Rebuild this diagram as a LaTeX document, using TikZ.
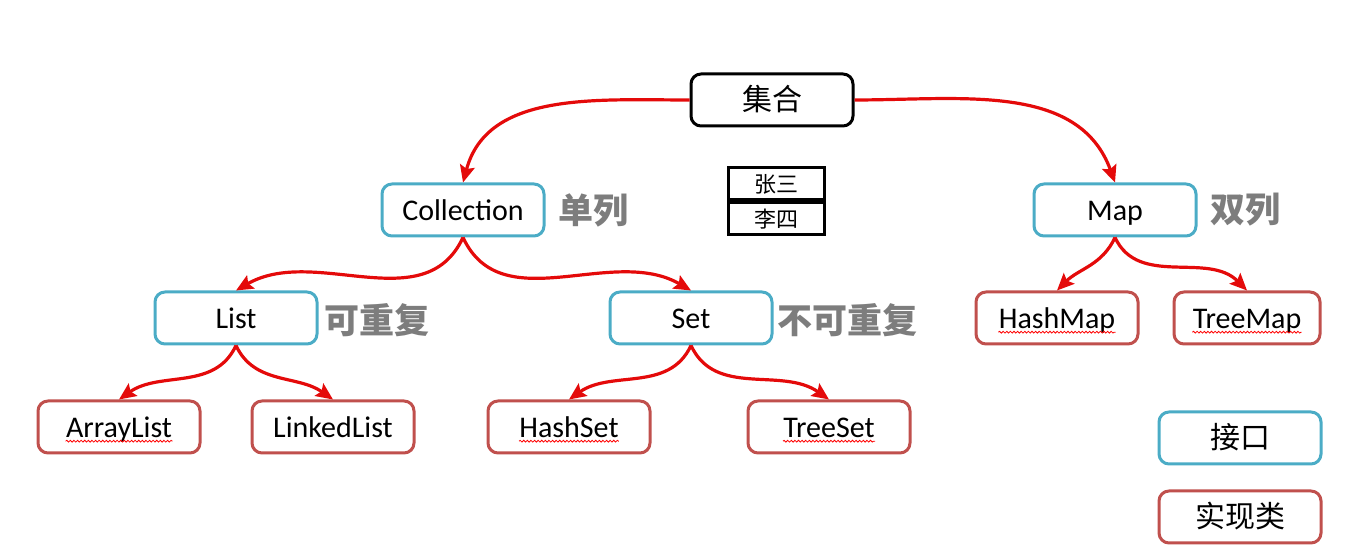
\documentclass[tikz,border=0pt]{standalone}
\usepackage{fontspec}
\setmainfont{Carlito}
\newfontfamily\cjk{Noto Sans CJK SC}
\usetikzlibrary{arrows.meta,decorations.pathmorphing}

\definecolor{ifblue}{RGB}{75,172,198}
\definecolor{implred}{RGB}{192,80,77}
\definecolor{linkred}{RGB}{228,10,10}
\definecolor{notegray}{RGB}{125,125,125}

\begin{document}
\begin{tikzpicture}[x=0.5pt, y=0.5pt,
    box/.style={draw, line width=1.5pt, rounded corners=5pt, minimum width=81pt,
        minimum height=26pt, inner sep=2pt, text height=12pt, text depth=1pt,
        font=\fontsize{15}{18}\selectfont},
    root/.style={box, draw=black},
    iface/.style={box, draw=ifblue},
    impl/.style={box, draw=implred},
    word/.style={inner sep=0pt, anchor=base, font=\fontsize{15}{18}\selectfont},
    spell/.style={draw=red, line width=0.4pt,
        decorate, decoration={snake, amplitude=0.45pt, segment length=1.8pt}},
    link/.style={draw=linkred, line width=1.6pt, -{Stealth[length=8.5pt, width=7.5pt, inset=1.5pt]}},
    note/.style={anchor=west, inner sep=0pt, text=notegray,
        font=\cjk\bfseries\fontsize{17.5}{20}\selectfont},
    cell/.style={draw, line width=1.5pt, minimum width=48pt, minimum height=16pt,
        inner sep=0pt, font=\cjk\fontsize{11}{13}\selectfont}
]
    \useasboundingbox (0,0) rectangle (1352,560);

    % 顶层
    \node[root] (jihe) at (772,460) {\cjk 集合};

    % 接口
    \node[iface] (coll) at (463,350) {Collection};
    \node[iface] (map) at (1115,350) {Map};
    \node[iface] (list) at (236,242) {List};
    \node[iface] (set) at (691,242) {Set};

    % 实现类
    \node[impl] (arraylist) at (119,133) {};
    \node[impl] (linkedlist) at (333,133) {LinkedList};
    \node[impl] (hashset) at (569,133) {};
    \node[impl] (treeset) at (829,133) {};
    \node[impl] (hashmap) at (1057,242) {};
    \node[impl, minimum width=73pt] (treemap) at (1247,242) {};

    % 带波浪线的文字
    \node[word] (arraylistT) at ([yshift=-5.5pt]arraylist.center) {ArrayList};
    \node[word] (hashsetT) at ([yshift=-5.5pt]hashset.center) {HashSet};
    \node[word] (treesetT) at ([yshift=-5.5pt]treeset.center) {TreeSet};
    \node[word] (hashmapT) at ([yshift=-5.5pt]hashmap.center) {HashMap};
    \node[word] (treemapT) at ([yshift=-5.5pt]treemap.center) {TreeMap};
    \foreach \w in {arraylistT, hashsetT, treesetT, hashmapT, treemapT}
        \draw[spell] ([yshift=-1.6pt]\w.base west) -- ([yshift=-1.6pt]\w.base east);

    % 说明文字
    \node[note] (danlie) at (558,350) {单列};
    \node[note] (shuanglie) at (1210,350) {双列};
    \node[note] (kechongfu) at (324,240) {可重复};
    \node[note] (bukechongfu) at (777,240) {不可重复};

    % 张三李四
    \node[cell] (zhangsan) at (776,376) {张三};
    \node[cell, anchor=north] (lisi) at (zhangsan.south) {李四};

    % 图例
    \node[iface] (ifkey) at (1240,122) {\cjk 接口};
    \node[impl] (implkey) at (1240,43) {\cjk 实现类};

    % 画箭头
    \draw[link] (jihe.west) to[out=180, in=75] (coll.north);
    \draw[link] (jihe.east) to[out=0, in=110] (map.north);
    \draw[link] (coll.south) to[out=-115, in=30] (list.north);
    \draw[link] (coll.south) to[out=-65, in=150] (set.north);
    \draw[link] (list.south) to[out=-115, in=35] (arraylist.north);
    \draw[link] (list.south) to[out=-65, in=145] (linkedlist.north);
    \draw[link] (set.south) to[out=-115, in=35] (hashset.north);
    \draw[link] (set.south) to[out=-65, in=145] (treeset.north);
    \draw[link] (map.south) to[out=-115, in=45] (hashmap.north);
    \draw[link] (map.south) to[out=-65, in=135] (treemap.north);
\end{tikzpicture}
\end{document}
